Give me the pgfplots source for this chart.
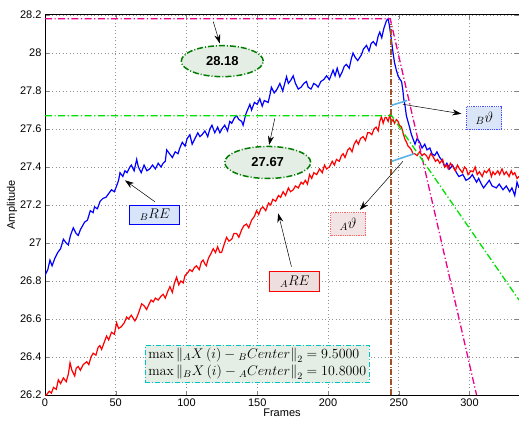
\RequirePackage{fix-cm}
\documentclass[border=0pt]{standalone}
\usepackage[no-math]{fontspec}
\setmainfont{Liberation Sans}
\usepackage{pgfplots}
\pgfplotsset{compat=1.18}
\usetikzlibrary{arrows.meta,shapes.geometric}
\definecolor{mygreen}{RGB}{0,225,0}
\definecolor{dkgreen}{RGB}{0,125,0}
\definecolor{boxgreen}{RGB}{228,238,228}
\definecolor{mybrown}{RGB}{160,80,35}
\definecolor{mycyan}{RGB}{0,195,195}
\definecolor{lcyan}{RGB}{90,180,230}
\definecolor{lblue}{RGB}{215,228,250}
\definecolor{lpink}{RGB}{238,222,222}
\definecolor{lpink2}{RGB}{242,228,228}
\definecolor{lblue2}{RGB}{218,230,248}

\pgfplotstableread{
x y
0 26.83
2 26.86
3.5 26.91
5 26.88
7 26.92
9 26.95
11 26.97
13 27.02
15 27.00
16.5 26.99
18 27.04
20 27.08
22 27.05
23.5 27.04
25 27.07
28 27.11
30 27.12
32 27.17
34 27.16
35 27.19
37 27.18
39 27.22
41 27.235
43 27.24
45 27.26
47 27.28
49 27.27
50.6 27.30
52 27.33
53 27.37
55 27.35
56.5 27.38
58 27.37
60 27.40
61 27.41
63 27.38
64.8 27.44
66 27.40
68 27.37
70 27.41
72 27.38
74 27.39
76 27.41
78 27.39
80 27.42
82 27.40
83.5 27.42
85 27.43
86 27.49
88 27.47
90 27.45
92 27.48
94 27.47
95.3 27.50
97 27.53
99 27.51
100.5 27.55
102.4 27.57
104 27.52
106 27.55
108 27.58
109.5 27.56
111 27.57
113 27.59
115 27.56
116.5 27.60
118 27.62
120 27.58
122 27.61
123.6 27.58
125 27.60
127 27.62
129 27.59
130.6 27.64
132 27.63
134 27.66
135.4 27.67
137 27.65
139 27.64
140 27.62
142 27.68
144.8 27.73
146 27.70
148 27.74
150 27.73
151.8 27.76
153.5 27.72
155 27.75
157.7 27.74
159 27.78
160 27.82
162 27.79
164 27.81
166 27.84
168 27.80
170.7 27.875
172 27.84
174 27.86
175.4 27.88
177 27.84
179 27.81
181 27.82
183 27.84
184.8 27.85
186 27.82
188 27.81
190 27.84
191.9 27.83
193 27.82
195 27.85
197 27.86
199 27.88
201 27.86
203.6 27.91
205 27.88
206.5 27.92
208.3 27.875
210 27.90
211.5 27.93
213 27.94
215 27.92
216.5 27.97
217.7 28.0
219 27.98
221 27.96
223.6 27.99
225 28.02
227.2 28.04
229 28.01
230.5 28.05
232 28.06
234 28.04
235.5 28.09
236.6 28.11
238 28.08
239.5 28.13
241.3 28.17
242.5 28.18
243.5 28.14
244.8 28.07
246 28.00
247 27.95
248.3 27.91
249.5 27.88
251 27.86
252 27.85
253 27.80
253.5 27.76
254.5 27.72
255.4 27.67
256.5 27.64
258 27.60
259 27.57
260 27.55
261.5 27.52
263 27.55
264.8 27.53
266.5 27.50
268.4 27.52
270 27.49
272 27.50
273.5 27.47
275.4 27.46
277 27.48
279 27.45
281 27.43
282.5 27.40
284 27.42
286 27.39
288 27.41
290.8 27.37
292.5 27.35
295.4 27.36
297.5 27.33
300 27.34
302 27.36
305 27.32
306.5 27.34
308.4 27.31
310 27.29
312 27.31
314 27.33
316 27.30
319 27.29
321 27.31
323.7 27.28
326 27.30
328.4 27.27
330 27.29
332 27.25
333.6 27.32
335 27.29
}\blue

\pgfplotstableread{
x y
0 26.20
1 26.20
3 26.22
4.5 26.21
6 26.24
8 26.23
9.4 26.28
11 26.26
13 26.29
15 26.27
16.5 26.31
17.7 26.37
19 26.33
21 26.30
22 26.34
23.5 26.35
25 26.33
27 26.36
29.5 26.375
31 26.36
32.5 26.40
34 26.42
36 26.41
37.5 26.45
38.8 26.46
40 26.44
42 26.48
43.5 26.51
45 26.49
47 26.53
49 26.52
50.6 26.58
52 26.55
54 26.56
56 26.58
57.7 26.61
59 26.60
61 26.62
63.5 26.59
65 26.61
66.5 26.64
68.3 26.68
70 26.67
71.8 26.65
73 26.67
75 26.70
76.5 26.69
78 26.71
80 26.70
82 26.72
83.5 26.73
85 26.71
87 26.75
88.3 26.77
90 26.74
91.5 26.79
93 26.82
94.5 26.78
96 26.80
97.7 26.79
99 26.83
100.5 26.84
102.4 26.86
104 26.85
105.5 26.87
107 26.88
109 26.86
110.5 26.90
111.8 26.91
113 26.89
114 26.88
115.5 26.92
117 26.94
118.9 26.97
120.5 26.95
122 26.98
123.6 26.95
124.8 26.95
126.5 26.99
128.3 27.03
130 27.01
132 27.02
133.5 27.05
135.4 27.05
137 27.03
139 27.07
140.5 27.09
142.4 27.10
144 27.08
146 27.12
148 27.14
149.5 27.17
151 27.15
152.5 27.18
154 27.19
156 27.17
158 27.21
159.5 27.20
161 27.23
163 27.22
165 27.25
166.5 27.24
168.3 27.27
170 27.25
172 27.29
173.5 27.27
175.4 27.28
177 27.30
179 27.29
181 27.32
182.4 27.31
184 27.33
185.5 27.31
187 27.36
188.5 27.34
190 27.37
192 27.36
194 27.39
196 27.37
197.5 27.41
199 27.39
201 27.40
203 27.43
204.5 27.41
206 27.44
208 27.43
209.5 27.46
210.7 27.47
212 27.45
214 27.49
215.4 27.50
217 27.48
218.5 27.52
220 27.54
221.5 27.52
223 27.55
224.8 27.56
226.5 27.54
228 27.58
229.5 27.58
231 27.57
232.5 27.60
234 27.61
235.5 27.59
236.6 27.64
237.8 27.665
239 27.63
240.3 27.66
241.3 27.66
242.5 27.64
243.6 27.67
245 27.64
246 27.65
247 27.63
248.3 27.65
249.5 27.64
250.5 27.62
252 27.61
253 27.58
254.2 27.55
255.5 27.53
256.6 27.51
258 27.50
259 27.49
260 27.47
261.3 27.47
263 27.46
264.8 27.48
266.5 27.46
268 27.47
269.6 27.46
271 27.44
272.5 27.47
274.2 27.455
276 27.43
277.5 27.44
279 27.42
281 27.44
282.5 27.40
283.7 27.41
285 27.39
286.5 27.42
288.4 27.40
290 27.38
291.5 27.41
293 27.39
295 27.37
296.5 27.40
297.8 27.39
299 27.36
301 27.38
302.5 27.375
304 27.40
305.5 27.36
307 27.375
309 27.35
310.5 27.38
312 27.37
314 27.39
315.5 27.35
316.6 27.375
318 27.36
320 27.38
321.3 27.36
323 27.39
324.5 27.36
326 27.375
328 27.35
329.5 27.38
330.7 27.36
332 27.37
333.6 27.34
335 27.35
}\red

\begin{document}
\begin{tikzpicture}
\begin{axis}[
  scale only axis, width=474pt, height=380pt,
  xmin=0, xmax=335, ymin=26.2, ymax=28.2,
  xtick={0,50,100,150,200,250,300},
  ytick={26.2,26.4,26.6,26.8,27,27.2,27.4,27.6,27.8,28,28.2},
  grid=major, grid style={dash pattern=on 1pt off 2.5pt, gray!85, line width=0.7pt},
  tick align=inside, major tick length=4pt,
  axis line style={line width=1pt},
  tick label style={font=\fontsize{11}{13}\selectfont},
  label style={font=\fontsize{11}{13}\selectfont},
  /pgf/number format/assume math mode=true,
  xlabel={Frames}, ylabel={Amplitude},
  ylabel style={yshift=-4pt},
  xlabel style={yshift=4pt},
]
\addplot[blue, line width=1.2pt] table[x=x,y=y] {\blue};
\addplot[red, line width=1.2pt] table[x=x,y=y] {\red};
\addplot[magenta, line width=1.3pt, dash pattern=on 7pt off 2.5pt on 1.2pt off 2.5pt] coordinates {(0,28.18)(244,28.18)(305,26.2)};
\addplot[mygreen, line width=1.3pt, dash pattern=on 7pt off 2.5pt on 1.2pt off 2.5pt] coordinates {(0,27.67)(245,27.67)(335,26.70)};
\addplot[mybrown, line width=2.2pt, dash pattern=on 6pt off 1.5pt on 1pt off 1.5pt] coordinates {(244.5,26.2)(244.5,28.15)};
\addplot[lcyan, line width=1.6pt] coordinates {(245,27.725)(256,27.75)};
\addplot[lcyan, line width=1.6pt] coordinates {(245,27.43)(261,27.47)};

% arrows
\draw[-{Stealth[length=9pt,width=6pt]}, line width=0.5pt] (axis cs:118.9,28.165) -- (axis cs:123.6,28.05);
\draw[-{Stealth[length=9pt,width=6pt]}, line width=0.5pt] (axis cs:162.4,27.656) -- (axis cs:158.4,27.516);
\draw[-{Stealth[length=9pt,width=6pt]}, line width=0.5pt] (axis cs:77.7,27.217) -- (axis cs:56.5,27.33);
\draw[-{Stealth[length=9pt,width=6pt]}, line width=0.5pt] (axis cs:174.2,26.875) -- (axis cs:164.8,27.156);
\draw[-{Stealth[length=9pt,width=6pt]}, line width=0.5pt] (axis cs:253,27.73) -- (axis cs:294.3,27.68);
\draw[-{Stealth[length=9pt,width=6pt]}, line width=0.5pt] (axis cs:253,27.43) -- (axis cs:222.5,27.174);

% labels
\node[ellipse, draw=dkgreen, line width=1.5pt, dash pattern=on 6pt off 2pt on 1pt off 2pt, fill=boxgreen, minimum width=82pt, minimum height=31pt, inner sep=0pt, font=\bfseries\fontsize{13}{15}\selectfont] at (axis cs:125.3,27.957) {28.18};
\node[ellipse, draw=dkgreen, line width=1.5pt, dash pattern=on 6pt off 2pt on 1pt off 2pt, fill=boxgreen, minimum width=86pt, minimum height=32pt, inner sep=0pt, font=\bfseries\fontsize{13}{15}\selectfont] at (axis cs:157.4,27.424) {27.67};
\node[draw=blue, line width=1pt, fill=lblue, minimum width=50pt, minimum height=19pt, inner sep=1pt, font=\fontsize{14}{16}\selectfont] at (axis cs:77.7,27.15) {${}_{B}RE$};
\node[draw=red, line width=1pt, fill=lpink, minimum width=50pt, minimum height=20pt, inner sep=1pt, font=\fontsize{14}{16}\selectfont] at (axis cs:176.6,26.796) {${}_{A}RE$};
\node[draw=red!60, densely dotted, line width=0.8pt, fill=lpink2, minimum width=35pt, minimum height=23pt, inner sep=1pt, font=\fontsize{15}{17}\selectfont] at (axis cs:214.2,27.10) {${}_{A}\vartheta$};
\node[draw=blue!70, densely dotted, line width=0.8pt, fill=lblue2, minimum width=35pt, minimum height=23pt, inner sep=1pt, font=\fontsize{15}{17}\selectfont] at (axis cs:310.5,27.656) {${}_{B}\vartheta$};
\node[draw=mycyan, line width=1.2pt, dash pattern=on 5pt off 2pt on 1pt off 2pt, fill=boxgreen, align=left, inner sep=3pt, font=\fontsize{14}{17}\selectfont] at (axis cs:150,26.363) {$\max\left\|{}_{A}X\left(i\right)-{}_{B}Center\right\|_2=9.5000$\\$\max\left\|{}_{B}X\left(i\right)-{}_{A}Center\right\|_2=10.8000$};
\end{axis}
\pgfresetboundingbox
\path (-45pt,-26pt) rectangle (474pt,395pt);
\end{tikzpicture}
\end{document}
